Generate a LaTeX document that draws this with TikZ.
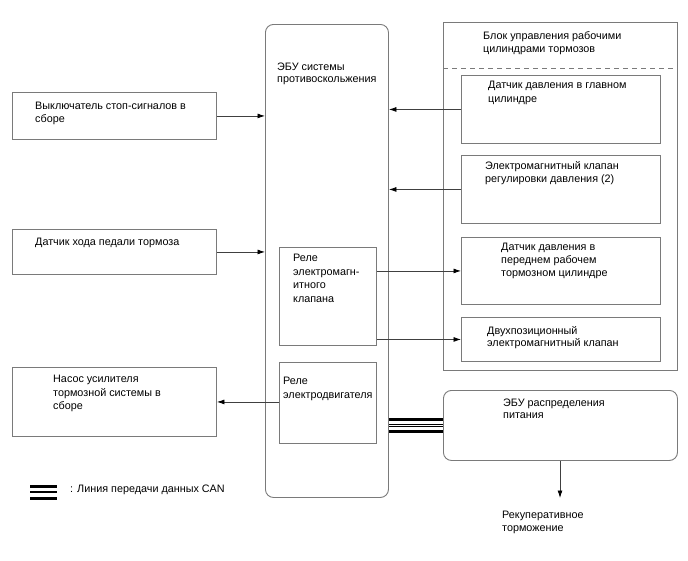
\documentclass[tikz,border=0pt]{standalone}
\usepackage{fontspec}
\setmainfont{Liberation Sans}
\usetikzlibrary{arrows.meta}
\definecolor{boxgray}{HTML}{7A7A7A}
\definecolor{linegray}{HTML}{404040}
\begin{document}
\begin{tikzpicture}[x=1pt,y=-1pt,
  box/.style={draw=boxgray, line width=0.9pt, inner sep=0pt, anchor=north west},
  txt/.style={anchor=north west, inner sep=0pt, align=left, font=\fontsize{10.8}{13.5}\selectfont, text=black},
  tight/.style={font=\fontsize{10.8}{12}\selectfont},
  mid/.style={font=\fontsize{10.8}{13}\selectfont},
  arr/.style={draw=linegray, line width=0.8pt, -{Latex[length=7.5pt,width=5pt,color=black]}},
  can/.style={draw=black}]
\useasboundingbox[fill=white] (0,0) rectangle (688,560);
% boxes
\node[box, minimum width=204, minimum height=47] (b1) at (12,92) {};
\node[box, minimum width=204, minimum height=45] (b2) at (12,229) {};
\node[box, minimum width=204, minimum height=69] (b3) at (12,367) {};
\node[box, rounded corners=8pt, minimum width=123, minimum height=473] (ecu) at (265,24) {};
\node[box, minimum width=97, minimum height=98] (r1) at (279,247) {};
\node[box, minimum width=97, minimum height=81] (r2) at (279,362) {};
\node[box, minimum width=234, minimum height=348] (blk) at (443,22) {};
\node[box, minimum width=199, minimum height=68] (ba) at (461,75) {};
\node[box, minimum width=199, minimum height=68] (bb) at (461,155) {};
\node[box, minimum width=199, minimum height=67] (bc) at (461,237) {};
\node[box, minimum width=199, minimum height=44] (bd) at (461,317) {};
\node[box, rounded corners=8pt, minimum width=234, minimum height=70] (pecu) at (443,390) {};
% dashed separator
\coordinate (dl) at (443,68);
\coordinate (dr) at (677,68);
\draw[draw=boxgray, line width=0.8pt, dash pattern=on 5pt off 4pt] (dl) -- (dr);
% texts
\node[txt] (t1) at (35,101.5) {Выключатель стоп-сигналов в\\сборе};
\node[txt] (t2) at (35,238) {Датчик хода педали тормоза};
\node[txt] (t3) at (53,375) {Насос усилителя\\тормозной системы в\\сборе};
\node[txt, tight] (tecu) at (277,62.5) {ЭБУ системы\\противоскольжения};
\node[txt] (tr1) at (293,254) {Реле\\электромагн-\\итного\\клапана};
\node[txt] (tr2) at (283,377) {Реле\\электродвигателя};
\node[txt] (tblk) at (483,31) {Блок управления рабочими\\цилиндрами тормозов};
\node[txt] (ta) at (488,81) {Датчик давления в главном\\цилиндре};
\node[txt] (tb) at (485,161) {Электромагнитный клапан\\регулировки давления (2)};
\node[txt, mid] (tc) at (501,243) {Датчик давления в\\переднем рабочем\\тормозном цилиндре};
\node[txt, tight] (td) at (487,326.5) {Двухпозиционный\\электромагнитный клапан};
\node[txt, tight] (tp) at (503,398.5) {ЭБУ распределения\\питания};
\node[txt, mid] (trec) at (502,511) {Рекуперативное\\торможение};
\node[txt] (tleg) at (70,485) {: Линия передачи данных CAN};
% connectors
\draw[arr] (b1.east) -- (ecu.west |- b1.east);
\draw[arr] (b2.east) -- (ecu.west |- b2.east);
\draw[arr] (r2.west |- b3.east) -- (b3.east);
\draw[arr] (ba.west) -- (ecu.east |- ba.west);
\draw[arr] (bb.west) -- (ecu.east |- bb.west);
\draw[arr] (r1.east |- bc.west) -- (bc.west);
\draw[arr] (r1.east |- bd.west) -- (bd.west);
\coordinate (rec) at (560,498);
\draw[arr] (pecu.south -| rec) -- (rec);
% CAN bus
\coordinate (ca) at (ecu.east |- pecu.west);
\draw[can, line width=3.2pt] ([yshift=6pt]ca) -- ([yshift=6pt]pecu.west);
\draw[can, line width=1pt] ([yshift=1.2pt]ca) -- ([yshift=1.2pt]pecu.west);
\draw[can, line width=1pt] ([yshift=-1.2pt]ca) -- ([yshift=-1.2pt]pecu.west);
\draw[can, line width=3.2pt] ([yshift=-6pt]ca) -- ([yshift=-6pt]pecu.west);
% legend symbol
\coordinate (lg1) at (30,492);
\coordinate (lg2) at (57,492);
\draw[can, line width=2.6pt] ([yshift=5.5pt]lg1) -- ([yshift=5.5pt]lg2);
\draw[can, line width=2pt] (lg1) -- (lg2);
\draw[can, line width=3pt] ([yshift=-6pt]lg1) -- ([yshift=-6pt]lg2);
\end{tikzpicture}
\end{document}
